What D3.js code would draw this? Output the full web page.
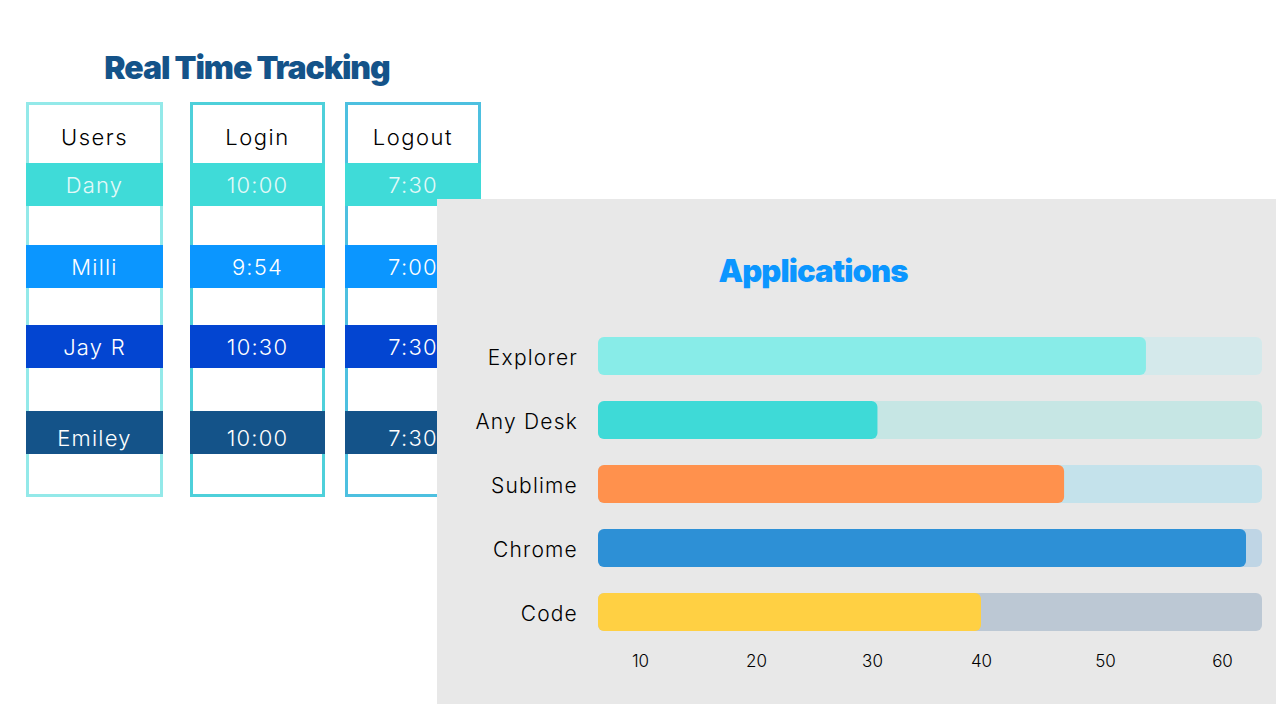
<!DOCTYPE html>
<html>
<head>
<meta charset="utf-8">
<script src="https://cdn.jsdelivr.net/npm/d3@7"></script>
<style>
  html, body { margin: 0; padding: 0; background: #fff; }
  svg { display: block; }
  text { font-family: Inter, "Open Sans", sans-serif; }
</style>
</head>
<body>
<svg id="chart" width="1280" height="706"></svg>
<script>
var columns = ['Users', 'Login', 'Logout'];
var users = ['Dany', 'Milli', 'Jay R', 'Emiley'];
var logins = ['10:00', '9:54', '10:30', '10:00'];
var logouts = ['7:30', '7:00', '7:30', '7:30'];
var rowColors = ['#3fdbd8', '#0b96ff', '#0345d1', '#145389'];
var columnColors = ['#93e9e9', '#4ed0da', '#4dc0e0'];

var apps = ['Explorer', 'Any Desk', 'Sublime', 'Chrome', 'Code'];
var usage = [53.5, 30.5, 46.7, 62.1, 40];
var barColors = ['#88ece8', '#3edad7', '#ff914d', '#2d90d6', '#ffd043'];
var trackColors = ['#d4e9eb', '#c6e6e4', '#c4e2eb', '#bfd5e5', '#bcc8d4'];
var ticks = [10, 20, 30, 40, 50, 60];

var svg = d3.select('#chart');

svg.append('text')
    .attr('x', 247)
    .attr('y', 79)
    .attr('text-anchor', 'middle')
    .attr('fill', '#145389')
    .style('font-size', '32px')
    .style('font-weight', 900)
    .style('letter-spacing', '-1.1px')
    .text('Real Time Tracking');

// table columns
var colX = d3.scaleOrdinal().domain(columns).range([26, 190, 345]);
var colW = d3.scaleOrdinal().domain(columns).range([137, 135, 136]);
var rowY = d3.scaleOrdinal().domain(users).range([163, 245, 325, 411]);
var rowText = d3.scaleOrdinal().domain(users).range([193, 275, 355, 446]);
var cells = [users, logins, logouts];

var col = svg.selectAll('.col')
    .data(columns)
  .enter().append('g')
    .attr('class', 'col')
    .attr('transform', function(d) { return 'translate(' + colX(d) + ',0)'; });

col.append('rect')
    .attr('x', 1.5)
    .attr('y', 103.5)
    .attr('width', function(d) { return colW(d) - 3; })
    .attr('height', 392)
    .attr('fill', '#fff')
    .attr('stroke', function(d, i) { return columnColors[i]; })
    .attr('stroke-width', 3);

col.append('text')
    .attr('x', function(d) { return colW(d) / 2; })
    .attr('y', 145)
    .attr('text-anchor', 'middle')
    .attr('fill', '#000')
    .style('font-size', '22px')
    .style('font-weight', 300)
    .style('letter-spacing', '1.5px')
    .text(function(d) { return d; });

col.each(function(c, i) {
  var g = d3.select(this);
  users.forEach(function(u, j) {
    g.append('rect')
        .attr('y', rowY(u))
        .attr('width', colW(c))
        .attr('height', 43)
        .attr('fill', rowColors[j]);
    g.append('text')
        .attr('x', colW(c) / 2)
        .attr('y', rowText(u))
        .attr('text-anchor', 'middle')
        .attr('fill', j === 0 ? '#e3f9f8' : '#fff')
        .style('font-size', '22px')
        .style('font-weight', 300)
        .style('letter-spacing', '1.2px')
        .text(cells[i][j]);
  });
});

// applications panel
svg.append('rect')
    .attr('x', 437)
    .attr('y', 199)
    .attr('width', 839)
    .attr('height', 505)
    .attr('fill', '#e8e8e8');

svg.append('text')
    .attr('x', 813)
    .attr('y', 282)
    .attr('text-anchor', 'middle')
    .attr('fill', '#0b96ff')
    .style('font-size', '31px')
    .style('font-weight', 900)
    .style('letter-spacing', '-0.9px')
    .text('Applications');

// the reference axis is not evenly spaced, so the scale is piecewise
var x = d3.scaleLinear()
    .domain([6.4, 10, 20, 30, 40, 50, 60, 63.5])
    .range([598, 640, 756, 872, 981, 1105, 1222, 1262]);

var y = d3.scaleBand()
    .domain(apps)
    .range([337, 631])
    .paddingInner(26 / 64);

svg.selectAll('.track')
    .data(apps)
  .enter().append('rect')
    .attr('class', 'track')
    .attr('x', x(6.4))
    .attr('y', function(d) { return y(d); })
    .attr('width', x(63.5) - x(6.4))
    .attr('height', y.bandwidth())
    .attr('rx', 6)
    .attr('fill', function(d, i) { return trackColors[i]; });

svg.selectAll('.bar')
    .data(usage)
  .enter().append('rect')
    .attr('class', 'bar')
    .attr('x', x(6.4))
    .attr('y', function(d, i) { return y(apps[i]); })
    .attr('width', function(d) { return x(d) - x(6.4); })
    .attr('height', y.bandwidth())
    .attr('rx', 6)
    .attr('fill', function(d, i) { return barColors[i]; });

svg.selectAll('.app')
    .data(apps)
  .enter().append('text')
    .attr('class', 'app')
    .attr('x', 578)
    .attr('y', function(d) { return y(d) + y.bandwidth() / 2 + 8.5; })
    .attr('text-anchor', 'end')
    .attr('fill', '#000')
    .style('font-size', '21px')
    .style('font-weight', 300)
    .style('letter-spacing', '1.2px')
    .text(function(d) { return d; });

var axis = svg.append('g')
    .attr('transform', 'translate(0,655)')
    .call(d3.axisBottom(x).tickValues(ticks).tickSize(0).tickPadding(0));

axis.select('.domain').remove();
axis.selectAll('text')
    .attr('fill', '#000')
    .attr('dy', '0.71em')
    .style('font-size', '17px')
    .style('font-weight', 300);
</script>
</body>
</html>
